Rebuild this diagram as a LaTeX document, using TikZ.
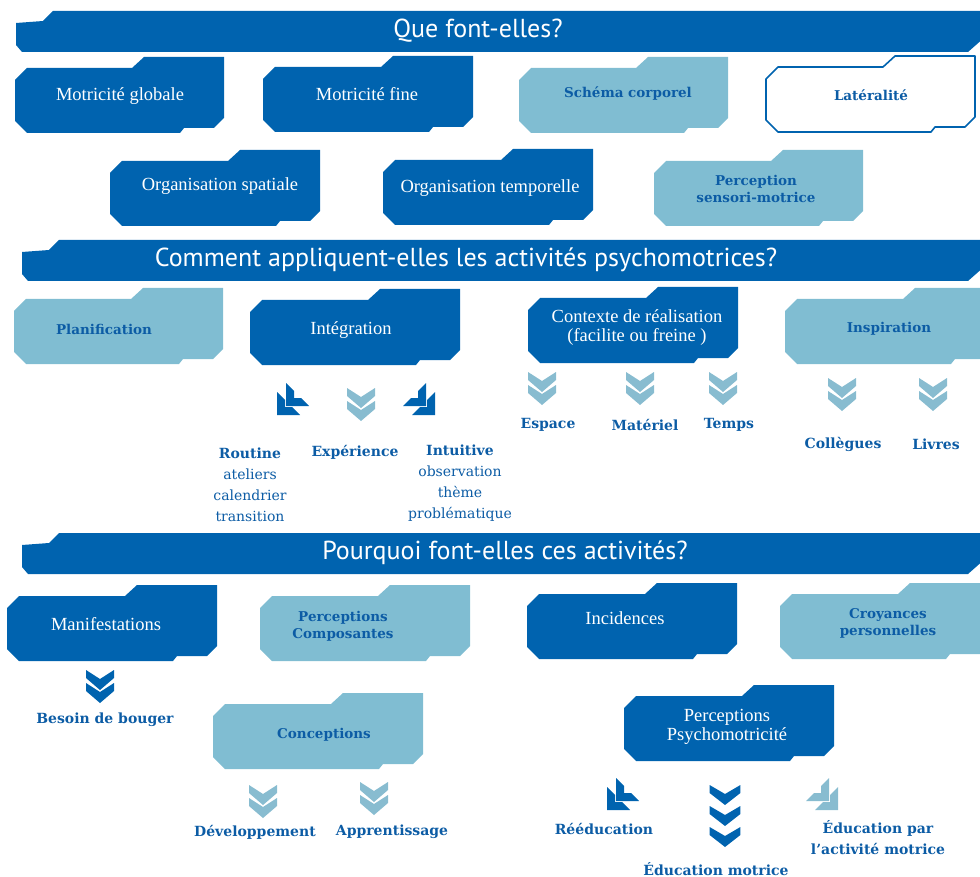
\documentclass[tikz,border=0pt]{standalone}
\usepackage{fontspec}
\setmainfont{Liberation Serif}
\newfontfamily\bannerfont{PT Sans}
\newfontfamily\labfont{DejaVu Serif}
\definecolor{dkblue}{RGB}{0,99,175}
\definecolor{ltblue}{RGB}{128,189,210}
\definecolor{txblue}{RGB}{12,92,165}
\definecolor{chlt}{RGB}{136,188,208}
\tikzset{
  dk shape/.style={fill=dkblue},
  lt shape/.style={fill=ltblue},
  wt shape/.style={fill=white,draw=dkblue,line width=1.6pt,line join=round},
  dk label/.style={text=white,inner sep=0,align=center,font=\fontsize{18.5}{19}\selectfont},
  lt label/.style={text=txblue,inner sep=0,align=center,font=\labfont\fontsize{13.5}{17}\selectfont\bfseries},
  wt label/.style={lt label},
  banner label/.style={text=white,inner sep=0,font=\bannerfont\fontsize{26}{28}\selectfont},
  lab/.style={text=txblue,inner sep=0,align=center,font=\labfont\fontsize{14}{21}\selectfont\bfseries},
  chev/.pic={\fill (-14,0) -- (0,9) -- (14,0) -- (14,8) -- (0,20) -- (-14,8) -- cycle;},
  dchev/.pic={\pic at (0,0) {chev}; \pic at (0,13) {chev};},
  tchev/.pic={\pic[xscale=1.1] at (0,0) {chev}; \pic[xscale=1.1] at (0,21) {chev}; \pic[xscale=1.1] at (0,42) {chev};},
  lchevL/.pic={\fill (0,0) -- (0,-23) -- (8,-15) -- (8,-8) -- (15,-8) -- (23,0) -- cycle;},
  lchevR/.pic={\fill (0,0) -- (0,-23) -- (-8,-15) -- (-8,-8) -- (-15,-8) -- (-23,0) -- cycle;},
  cornerL/.pic={\pic at (0,0) {lchevL}; \pic at (9,-9) {lchevL};},
  cornerR/.pic={\pic at (0,0) {lchevR}; \pic at (-9,-9) {lchevR};},
}
\newcommand{\tabpath}[1]{(0,23) -- (12,11) -- ({#1-92},11) -- ({#1-80},0) -- (#1,0) -- (#1,61) -- ({#1-10},71) -- ({#1-40},71) -- ({#1-44},76) -- (12,76) -- (0,64) -- cycle}
% name, x, y, width, style, text x, text y, text
\newcommand{\tbox}[8]{\path[#5 shape, shift={(#2,#3)}] \tabpath{#4};
  \node[#5 label] (#1) at (#6,#7) {#8};}
\newcommand{\banner}[5]{\begin{scope}[shift={(#2,#3)}]
  \path[dk shape] (0,12) -- (27,10) -- (37,0) -- ({985-#2},0) -- ({985-#2},26) -- ({968-#2},41) -- (6,41) -- (0,34) -- cycle;
  \node[banner label] (#1) at ({#4-#2},20) {#5};
\end{scope}}
\begin{document}
\begin{tikzpicture}[x=1pt,y=-1pt]
\useasboundingbox (0,0) rectangle (980,877);
\clip (0,0) rectangle (980,877);
% banners
\banner{b1}{16}{11}{478}{Que font-elles?}
\banner{b2}{22}{240}{466}{Comment appliquent-elles les activités psychomotrices?}
\banner{b3}{22}{533}{505}{Pourquoi font-elles ces activités?}
% boxes
\tbox{mg}{15}{57}{209}{dk}{120}{96}{Motricité globale}
\tbox{mf}{263}{56}{210}{dk}{367}{94}{Motricité fine}
\tbox{sc}{519}{57}{209}{lt}{628}{94}{Schéma corporel}
\tbox{lat}{766}{56}{209}{wt}{871}{95}{Latéralité}
\tbox{os}{110}{150}{210}{dk}{220}{186}{Organisation spatiale}
\tbox{ot}{383}{149}{210}{dk}{490}{188}{Organisation temporelle}
\tbox{psm}{654}{150}{209}{lt}{756}{189}{Perception\\sensori-motrice}
\tbox{pla}{14}{288}{209}{lt}{104}{329}{Planification}
\tbox{int}{250}{289}{210}{dk}{351}{330}{Intégration}
\tbox{ctx}{528}{287}{210}{dk}{637}{328}{Contexte de réalisation\\(facilite ou freine )}
\tbox{ins}{785}{288}{210}{lt}{889}{329}{Inspiration}
\tbox{man}{7}{585}{210}{dk}{106}{624}{Manifestations}
\tbox{pco}{260}{585}{210}{lt}{343}{626}{Perceptions\\Composantes}
\tbox{inc}{527}{583}{210}{dk}{625}{618}{Incidences}
\tbox{cro}{780}{583}{210}{lt}{888}{623}{Croyances\\personnelles}
\tbox{con}{213}{693}{210}{lt}{324}{735}{Conceptions}
\tbox{pps}{624}{685}{210}{dk}{727}{727}{Perceptions\\Psychomotricité}
% chevrons
\pic[color=dkblue] at (277,415) {cornerL};
\pic[color=chlt] at (361,388) {dchev};
\pic[color=dkblue] at (435,415) {cornerR};
\pic[color=chlt] at (542,372) {dchev};
\pic[color=chlt] at (640,372) {dchev};
\pic[color=chlt] at (723,372) {dchev};
\pic[color=chlt] at (842,378) {dchev};
\pic[color=chlt] at (933,378) {dchev};
\pic[color=dkblue] at (100,670) {dchev};
\pic[color=chlt] at (263,785) {dchev};
\pic[color=chlt] at (374,782) {dchev};
\pic[color=dkblue] at (607,810) {cornerL};
\pic[color=dkblue] at (725,785) {tchev};
\pic[color=chlt] at (838,810) {cornerR};
% labels
\node[lab] (routine) at (250,485) {Routine\\{\mdseries ateliers}\\{\mdseries calendrier}\\{\mdseries transition}};
\node[lab] (exp) at (355,452) {Expérience};
\node[lab] (intu) at (460,483) {Intuitive\\{\mdseries observation}\\{\mdseries thème}\\{\mdseries problématique}};
\node[lab] (esp) at (548,425) {Espace};
\node[lab] (mat) at (645,425) {Matériel};
\node[lab] (tps) at (729,425) {Temps};
\node[lab] (col) at (843,444) {Collègues};
\node[lab] (liv) at (936,444) {Livres};
\node[lab] (bes) at (105,720) {Besoin de bouger};
\node[lab] (dev) at (255,832) {Développement};
\node[lab] (app) at (392,832) {Apprentissage};
\node[lab] (ree) at (604,829) {Rééducation};
\node[lab] (edm) at (716,869) {Éducation motrice};
\node[lab] (eda) at (878,838) {Éducation par\\l’activité motrice};
\end{tikzpicture}
\end{document}
